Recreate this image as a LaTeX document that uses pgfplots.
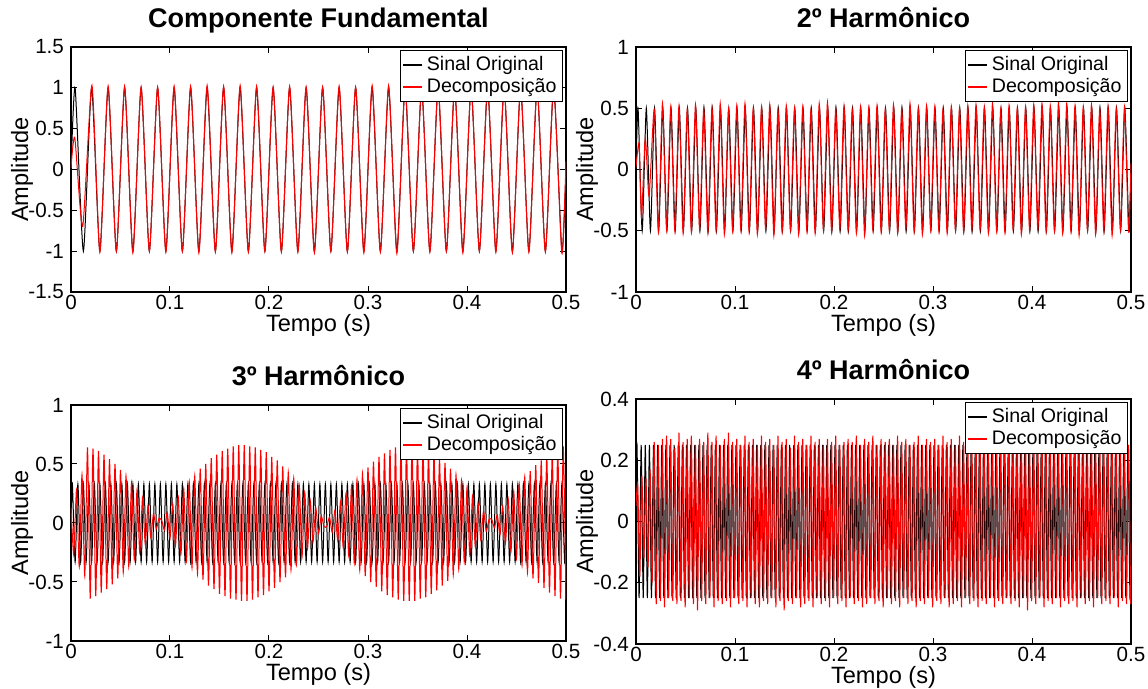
\documentclass[border=0pt]{standalone}
\usepackage{fontspec}
\setmainfont{Liberation Sans}
\usepackage{pgfplots}
\pgfplotsset{compat=1.18}

% time axis in units of 1/2880 s (0.5 s = 1440)
\pgfplotsset{
  sig/.style={
    scale only axis, width=247.5pt,
    xmin=0, xmax=1440,
    xtick={0,288,576,864,1152,1440},
    xticklabels={0,0.1,0.2,0.3,0.4,0.5},
    tick align=inside, major tick length=3pt,
    tick style={black, line width=0.5pt},
    axis line style={line width=0.6pt},
    tick label style={font=\fontsize{10.3}{12}\selectfont},
    xticklabel style={yshift=2pt},
    /pgf/number format/assume math mode=true,
    xlabel={Tempo (s)}, ylabel={Amplitude},
    every axis x label/.style={at={(axis description cs:0.5,0)}, anchor=center, yshift=-16.5pt,
      font=\fontsize{11.8}{14}\selectfont},
    every axis y label/.style={at={(axis description cs:-0.099,0.5)}, anchor=center, rotate=90,
      font=\fontsize{11.8}{14}\selectfont},
    every axis title/.style={at={(axis description cs:0.5,1)}, anchor=base, yshift=9.6pt,
      font=\fontsize{13.5}{16}\selectfont\bfseries},
    legend style={at={(0.994,0.988)}, anchor=north east, draw=black, line width=0.5pt, fill=white,
      font=\fontsize{9.8}{11}\selectfont, inner xsep=1pt, inner ysep=1pt, row sep=-1.5pt, cells={anchor=west}},
    legend image code/.code={\draw[#1, line width=0.8pt] (0pt,0pt) -- (9.5pt,0pt);},
  },
  orig/.style={draw=black, line width=0.5pt, smooth, tension=0.36},
  deco/.style={draw=red, line width=0.5pt, smooth, tension=0.36},
}

\begin{document}
\begin{tikzpicture}
\useasboundingbox (0,0) rectangle (574pt,344.5pt);

% ---------------- Componente Fundamental
\begin{axis}[sig, at={(35.5pt,198.5pt)}, anchor=south west, height=122.5pt,
  ymin=-1.5, ymax=1.5, ytick={-1.5,-1,-0.5,0,0.5,1,1.5},
  title={Componente Fundamental}]
\addplot[orig] coordinates {
(0,0) (12,1) (36,-1) (60,1) (84,-1) (108,1) (132,-1) (156,1) (180,-1)
(204,1) (228,-1) (252,1) (276,-1) (300,1) (324,-1) (348,1) (372,-1)
(396,1) (420,-1) (444,1) (468,-1) (492,1) (516,-1) (540,1) (564,-1)
(588,1) (612,-1) (636,1) (660,-1) (684,1) (708,-1) (732,1) (756,-1)
(780,1) (804,-1) (828,1) (852,-1) (876,1) (900,-1) (924,1) (948,-1)
(972,1) (996,-1) (1020,1) (1044,-1) (1068,1) (1092,-1) (1116,1) (1140,-1)
(1164,1) (1188,-1) (1212,1) (1236,-1) (1260,1) (1284,-1) (1308,1) (1332,-1)
(1356,1) (1380,-1) (1404,1) (1428,-1) (1440,0)
};
\addplot[deco] coordinates {
(0,0.02) (11,0.39) (34,-0.7) (61,1.03) (84,-1.01) (108,1.02) (132,-1.0) (156,1.02)
(180,-1.02) (204,1.01) (228,-1.0) (252,1.01) (276,-1.01) (300,1.02) (324,-1.0) (348,1.02)
(372,-1.02) (396,1.03) (420,-1.01) (444,1.02) (468,-1.02) (492,1.03) (516,-1.01) (540,1.02)
(564,-1.0) (588,1.01) (612,-1.01) (636,1.02) (660,-1.01) (684,1.01) (708,-1.02) (732,1.01)
(756,-1.0) (780,1.02) (804,-1.01) (828,1.01) (852,-1.02) (876,1.03) (900,-1.01) (924,1.03)
(948,-1.03) (972,1.02) (996,-1.0) (1020,1.01) (1044,-1.01) (1068,1.02) (1092,-1.0) (1116,1.01)
(1140,-1.02) (1164,1.01) (1188,-1.0) (1212,1.02) (1236,-1.01) (1260,1.01) (1284,-1.02) (1308,1.02)
(1332,-1.01) (1356,1.01) (1380,-1.01) (1404,1.02) (1428,-1.03) (1440,0.1)
};
\legend{Sinal Original, Decomposição}
\end{axis}

% ---------------- 2o harmonico
\begin{axis}[sig, at={(318pt,198.5pt)}, anchor=south west, height=122.5pt,
  ymin=-1, ymax=1, ytick={-1,-0.5,0,0.5,1},
  title={2º Harmônico}]
\addplot[orig] coordinates {
(0,0)
(6,0.5) (18,-0.5) (30,0.5) (42,-0.5) (54,0.5) (66,-0.5) (78,0.5) (90,-0.5)
(102,0.5) (114,-0.5) (126,0.5) (138,-0.5) (150,0.5) (162,-0.5) (174,0.5) (186,-0.5)
(198,0.5) (210,-0.5) (222,0.5) (234,-0.5) (246,0.5) (258,-0.5) (270,0.5) (282,-0.5)
(294,0.5) (306,-0.5) (318,0.5) (330,-0.5) (342,0.5) (354,-0.5) (366,0.5) (378,-0.5)
(390,0.5) (402,-0.5) (414,0.5) (426,-0.5) (438,0.5) (450,-0.5) (462,0.5) (474,-0.5)
(486,0.5) (498,-0.5) (510,0.5) (522,-0.5) (534,0.5) (546,-0.5) (558,0.5) (570,-0.5)
(582,0.5) (594,-0.5) (606,0.5) (618,-0.5) (630,0.5) (642,-0.5) (654,0.5) (666,-0.5)
(678,0.5) (690,-0.5) (702,0.5) (714,-0.5) (726,0.5) (738,-0.5) (750,0.5) (762,-0.5)
(774,0.5) (786,-0.5) (798,0.5) (810,-0.5) (822,0.5) (834,-0.5) (846,0.5) (858,-0.5)
(870,0.5) (882,-0.5) (894,0.5) (906,-0.5) (918,0.5) (930,-0.5) (942,0.5) (954,-0.5)
(966,0.5) (978,-0.5) (990,0.5) (1002,-0.5) (1014,0.5) (1026,-0.5) (1038,0.5) (1050,-0.5)
(1062,0.5) (1074,-0.5) (1086,0.5) (1098,-0.5) (1110,0.5) (1122,-0.5) (1134,0.5) (1146,-0.5)
(1158,0.5) (1170,-0.5) (1182,0.5) (1194,-0.5) (1206,0.5) (1218,-0.5) (1230,0.5) (1242,-0.5)
(1254,0.5) (1266,-0.5) (1278,0.5) (1290,-0.5) (1302,0.5) (1314,-0.5) (1326,0.5) (1338,-0.5)
(1350,0.5) (1362,-0.5) (1374,0.5) (1386,-0.5) (1398,0.5) (1410,-0.5) (1422,0.5) (1434,-0.5)
(1440,0)
};
\addplot[deco] coordinates {
(0,0.02) (9,0.21) (16,-0.39) (27,0.26) (38,-0.22)
(53,0.49) (65,-0.51) (77,0.54) (89,-0.49) (101,0.51) (113,-0.50) (125,0.52) (137,-0.52)
(149,0.49) (161,-0.51) (173,0.53) (185,-0.49) (197,0.50) (209,-0.52) (221,0.51) (233,-0.50)
(245,0.54) (257,-0.53) (269,0.49) (281,-0.50) (293,0.52) (305,-0.49) (317,0.54) (329,-0.51)
(341,0.50) (353,-0.53) (365,0.51) (377,-0.49) (389,0.53) (401,-0.54) (413,0.49) (425,-0.51)
(437,0.52) (449,-0.49) (461,0.50) (473,-0.53) (485,0.51) (497,-0.50) (509,0.49) (521,-0.52)
(533,0.54) (545,-0.49) (557,0.55) (569,-0.51) (581,0.50) (593,-0.49) (605,0.52) (617,-0.50)
(629,0.49) (641,-0.52) (653,0.51) (665,-0.54) (677,0.50) (689,-0.49) (701,0.52) (713,-0.51)
(725,0.49) (737,-0.50) (749,0.53) (761,-0.52) (773,0.50) (785,-0.49) (797,0.54) (809,-0.51)
(821,0.50) (833,-0.53) (845,0.52) (857,-0.49) (869,0.51) (881,-0.50) (893,0.49) (905,-0.52)
(917,0.51) (929,-0.49) (941,0.50) (953,-0.51) (965,0.52) (977,-0.50) (989,0.53) (1001,-0.49)
(1013,0.51) (1025,-0.52) (1037,0.54) (1049,-0.50) (1061,0.49) (1073,-0.51) (1085,0.52) (1097,-0.49)
(1109,0.50) (1121,-0.53) (1133,0.51) (1145,-0.50) (1157,0.53) (1169,-0.49) (1181,0.54) (1193,-0.51)
(1205,0.52) (1217,-0.50) (1229,0.55) (1241,-0.52) (1253,0.54) (1265,-0.50) (1277,0.52) (1289,-0.54)
(1301,0.51) (1313,-0.49) (1325,0.53) (1337,-0.53) (1349,0.50) (1361,-0.51) (1373,0.52) (1385,-0.54)
(1397,0.50) (1409,-0.49) (1421,0.51) (1433,-0.51) (1440,0.05)
};
\legend{Sinal Original, Decomposição}
\end{axis}

% ---------------- 3o harmonico
\begin{axis}[sig, at={(35.5pt,24pt)}, anchor=south west, height=118pt,
  ymin=-1, ymax=1, ytick={-1,-0.5,0,0.5,1},
  title={3º Harmônico}]
\addplot[orig] coordinates {
(0,0)
(4,0.33) (12,-0.33) (20,0.33) (28,-0.33) (36,0.33) (44,-0.33) (52,0.33) (60,-0.33)
(68,0.33) (76,-0.33) (84,0.33) (92,-0.33) (100,0.33) (108,-0.33) (116,0.33) (124,-0.33)
(132,0.33) (140,-0.33) (148,0.33) (156,-0.33) (164,0.33) (172,-0.33) (180,0.33) (188,-0.33)
(196,0.33) (204,-0.33) (212,0.33) (220,-0.33) (228,0.33) (236,-0.33) (244,0.33) (252,-0.33)
(260,0.33) (268,-0.33) (276,0.33) (284,-0.33) (292,0.33) (300,-0.33) (308,0.33) (316,-0.33)
(324,0.33) (332,-0.33) (340,0.33) (348,-0.33) (356,0.33) (364,-0.33) (372,0.33) (380,-0.33)
(388,0.33) (396,-0.33) (404,0.33) (412,-0.33) (420,0.33) (428,-0.33) (436,0.33) (444,-0.33)
(452,0.33) (460,-0.33) (468,0.33) (476,-0.33) (484,0.33) (492,-0.33) (500,0.33) (508,-0.33)
(516,0.33) (524,-0.33) (532,0.33) (540,-0.33) (548,0.33) (556,-0.33) (564,0.33) (572,-0.33)
(580,0.33) (588,-0.33) (596,0.33) (604,-0.33) (612,0.33) (620,-0.33) (628,0.33) (636,-0.33)
(644,0.33) (652,-0.33) (660,0.33) (668,-0.33) (676,0.33) (684,-0.33) (692,0.33) (700,-0.33)
(708,0.33) (716,-0.33) (724,0.33) (732,-0.33) (740,0.33) (748,-0.33) (756,0.33) (764,-0.33)
(772,0.33) (780,-0.33) (788,0.33) (796,-0.33) (804,0.33) (812,-0.33) (820,0.33) (828,-0.33)
(836,0.33) (844,-0.33) (852,0.33) (860,-0.33) (868,0.33) (876,-0.33) (884,0.33) (892,-0.33)
(900,0.33) (908,-0.33) (916,0.33) (924,-0.33) (932,0.33) (940,-0.33) (948,0.33) (956,-0.33)
(964,0.33) (972,-0.33) (980,0.33) (988,-0.33) (996,0.33) (1004,-0.33) (1012,0.33) (1020,-0.33)
(1028,0.33) (1036,-0.33) (1044,0.33) (1052,-0.33) (1060,0.33) (1068,-0.33) (1076,0.33) (1084,-0.33)
(1092,0.33) (1100,-0.33) (1108,0.33) (1116,-0.33) (1124,0.33) (1132,-0.33) (1140,0.33) (1148,-0.33)
(1156,0.33) (1164,-0.33) (1172,0.33) (1180,-0.33) (1188,0.33) (1196,-0.33) (1204,0.33) (1212,-0.33)
(1220,0.33) (1228,-0.33) (1236,0.33) (1244,-0.33) (1252,0.33) (1260,-0.33) (1268,0.33) (1276,-0.33)
(1284,0.33) (1292,-0.33) (1300,0.33) (1308,-0.33) (1316,0.33) (1324,-0.33) (1332,0.33) (1340,-0.33)
(1348,0.33) (1356,-0.33) (1364,0.33) (1372,-0.33) (1380,0.33) (1388,-0.33) (1396,0.33) (1404,-0.33)
(1412,0.33) (1420,-0.33) (1428,0.33) (1436,-0.33) (1440,0)
};
\addplot[deco] coordinates {
(0,0.13) (8,-0.27) (16,0.28) (24,-0.37) (32,0.41) (40,-0.45) (48,0.64) (56,-0.64)
(64,0.63) (72,-0.62) (80,0.61) (88,-0.59) (96,0.58) (104,-0.56) (112,0.54) (120,-0.52)
(128,0.50) (136,-0.47) (144,0.45) (152,-0.42) (160,0.40) (168,-0.37) (176,0.34) (184,-0.31)
(192,0.28) (200,-0.25) (208,0.21) (216,-0.18) (224,0.15) (232,-0.12) (240,0.08) (248,-0.05)
(256,0.04) (264,0.02) (272,-0.06) (280,0.09) (288,-0.13) (296,0.16) (304,-0.19) (312,0.22)
(320,-0.26) (328,0.29) (336,-0.32) (344,0.35) (352,-0.38) (360,0.40) (368,-0.43) (376,0.46)
(384,-0.48) (392,0.50) (400,-0.53) (408,0.55) (416,-0.56) (424,0.58) (432,-0.60) (440,0.61)
(448,-0.62) (456,0.63) (464,-0.64) (472,0.65) (480,-0.65) (488,0.66) (496,-0.66) (504,0.66)
(512,-0.66) (520,0.65) (528,-0.65) (536,0.64) (544,-0.63) (552,0.62) (560,-0.61) (568,0.60)
(576,-0.58) (584,0.56) (592,-0.55) (600,0.53) (608,-0.50) (616,0.48) (624,-0.46) (632,0.43)
(640,-0.40) (648,0.38) (656,-0.35) (664,0.32) (672,-0.29) (680,0.26) (688,-0.22) (696,0.19)
(704,-0.16) (712,0.13) (720,-0.09) (728,0.06) (736,-0.03) (744,-0.03) (752,0.05) (760,-0.08)
(768,0.11) (776,-0.15) (784,0.18) (792,-0.21) (800,0.25) (808,-0.28) (816,0.31) (824,-0.34)
(832,0.37) (840,-0.40) (848,0.42) (856,-0.45) (864,0.47) (872,-0.50) (880,0.52) (888,-0.54)
(896,0.56) (904,-0.58) (912,0.59) (920,-0.61) (928,0.62) (936,-0.63) (944,0.64) (952,-0.65)
(960,0.65) (968,-0.66) (976,0.66) (984,-0.66) (992,0.66) (1000,-0.66) (1008,0.65) (1016,-0.64)
(1024,0.64) (1032,-0.63) (1040,0.61) (1048,-0.60) (1056,0.59) (1064,-0.57) (1072,0.55) (1080,-0.53)
(1088,0.51) (1096,-0.49) (1104,0.46) (1112,-0.44) (1120,0.41) (1128,-0.39) (1136,0.36) (1144,-0.33)
(1152,0.30) (1160,-0.27) (1168,0.23) (1176,-0.20) (1184,0.17) (1192,-0.14) (1200,0.10) (1208,-0.07)
(1216,0.03) (1224,0.03) (1232,-0.04) (1240,0.07) (1248,-0.10) (1256,0.14) (1264,-0.17) (1272,0.20)
(1280,-0.24) (1288,0.27) (1296,-0.30) (1304,0.33) (1312,-0.36) (1320,0.39) (1328,-0.42) (1336,0.44)
(1344,-0.47) (1352,0.49) (1360,-0.51) (1368,0.53) (1376,-0.55) (1384,0.57) (1392,-0.59) (1400,0.60)
(1408,-0.62) (1416,0.63) (1424,-0.64) (1432,0.65) (1440,-0.65)
};
\legend{Sinal Original, Decomposição}
\end{axis}

% ---------------- 4o harmonico
\begin{axis}[sig, at={(318pt,22.5pt)}, anchor=south west, height=122.5pt,
  ymin=-0.4, ymax=0.4, ytick={-0.4,-0.2,0,0.2,0.4},
  title={4º Harmônico}]
\addplot[orig] coordinates {
(0,0)
(3,0.25) (9,-0.25) (15,0.25) (21,-0.25) (27,0.25) (33,-0.25) (39,0.25) (45,-0.25)
(51,0.25) (57,-0.25) (63,0.25) (69,-0.25) (75,0.25) (81,-0.25) (87,0.25) (93,-0.25)
(99,0.25) (105,-0.25) (111,0.25) (117,-0.25) (123,0.25) (129,-0.25) (135,0.25) (141,-0.25)
(147,0.25) (153,-0.25) (159,0.25) (165,-0.25) (171,0.25) (177,-0.25) (183,0.25) (189,-0.25)
(195,0.25) (201,-0.25) (207,0.25) (213,-0.25) (219,0.25) (225,-0.25) (231,0.25) (237,-0.25)
(243,0.25) (249,-0.25) (255,0.25) (261,-0.25) (267,0.25) (273,-0.25) (279,0.25) (285,-0.25)
(291,0.25) (297,-0.25) (303,0.25) (309,-0.25) (315,0.25) (321,-0.25) (327,0.25) (333,-0.25)
(339,0.25) (345,-0.25) (351,0.25) (357,-0.25) (363,0.25) (369,-0.25) (375,0.25) (381,-0.25)
(387,0.25) (393,-0.25) (399,0.25) (405,-0.25) (411,0.25) (417,-0.25) (423,0.25) (429,-0.25)
(435,0.25) (441,-0.25) (447,0.25) (453,-0.25) (459,0.25) (465,-0.25) (471,0.25) (477,-0.25)
(483,0.25) (489,-0.25) (495,0.25) (501,-0.25) (507,0.25) (513,-0.25) (519,0.25) (525,-0.25)
(531,0.25) (537,-0.25) (543,0.25) (549,-0.25) (555,0.25) (561,-0.25) (567,0.25) (573,-0.25)
(579,0.25) (585,-0.25) (591,0.25) (597,-0.25) (603,0.25) (609,-0.25) (615,0.25) (621,-0.25)
(627,0.25) (633,-0.25) (639,0.25) (645,-0.25) (651,0.25) (657,-0.25) (663,0.25) (669,-0.25)
(675,0.25) (681,-0.25) (687,0.25) (693,-0.25) (699,0.25) (705,-0.25) (711,0.25) (717,-0.25)
(723,0.25) (729,-0.25) (735,0.25) (741,-0.25) (747,0.25) (753,-0.25) (759,0.25) (765,-0.25)
(771,0.25) (777,-0.25) (783,0.25) (789,-0.25) (795,0.25) (801,-0.25) (807,0.25) (813,-0.25)
(819,0.25) (825,-0.25) (831,0.25) (837,-0.25) (843,0.25) (849,-0.25) (855,0.25) (861,-0.25)
(867,0.25) (873,-0.25) (879,0.25) (885,-0.25) (891,0.25) (897,-0.25) (903,0.25) (909,-0.25)
(915,0.25) (921,-0.25) (927,0.25) (933,-0.25) (939,0.25) (945,-0.25) (951,0.25) (957,-0.25)
(963,0.25) (969,-0.25) (975,0.25) (981,-0.25) (987,0.25) (993,-0.25) (999,0.25) (1005,-0.25)
(1011,0.25) (1017,-0.25) (1023,0.25) (1029,-0.25) (1035,0.25) (1041,-0.25) (1047,0.25) (1053,-0.25)
(1059,0.25) (1065,-0.25) (1071,0.25) (1077,-0.25) (1083,0.25) (1089,-0.25) (1095,0.25) (1101,-0.25)
(1107,0.25) (1113,-0.25) (1119,0.25) (1125,-0.25) (1131,0.25) (1137,-0.25) (1143,0.25) (1149,-0.25)
(1155,0.25) (1161,-0.25) (1167,0.25) (1173,-0.25) (1179,0.25) (1185,-0.25) (1191,0.25) (1197,-0.25)
(1203,0.25) (1209,-0.25) (1215,0.25) (1221,-0.25) (1227,0.25) (1233,-0.25) (1239,0.25) (1245,-0.25)
(1251,0.25) (1257,-0.25) (1263,0.25) (1269,-0.25) (1275,0.25) (1281,-0.25) (1287,0.25) (1293,-0.25)
(1299,0.25) (1305,-0.25) (1311,0.25) (1317,-0.25) (1323,0.25) (1329,-0.25) (1335,0.25) (1341,-0.25)
(1347,0.25) (1353,-0.25) (1359,0.25) (1365,-0.25) (1371,0.25) (1377,-0.25) (1383,0.25) (1389,-0.25)
(1395,0.25) (1401,-0.25) (1407,0.25) (1413,-0.25) (1419,0.25) (1425,-0.25) (1431,0.25) (1437,-0.25)
(1440,0)
};
\addplot[deco] coordinates {
(0,0.05) (5,0.12) (11,-0.18) (17,0.15) (23,-0.12) (29,0.14) (35,-0.15) (41,0.17) (47,-0.2)
(53,0.26) (59,-0.27) (65,0.25) (71,-0.26) (77,0.27) (83,-0.28) (89,0.28) (95,-0.25)
(101,0.27) (107,-0.26) (113,0.24) (119,-0.27) (125,0.29) (131,-0.26) (137,0.26) (143,-0.28)
(149,0.27) (155,-0.25) (161,0.28) (167,-0.27) (173,0.25) (179,-0.29) (185,0.27) (191,-0.26)
(197,0.26) (203,-0.27) (209,0.29) (215,-0.25) (221,0.26) (227,-0.28) (233,0.28) (239,-0.26)
(245,0.25) (251,-0.27) (257,0.27) (263,-0.26) (269,0.29) (275,-0.28) (281,0.26) (287,-0.25)
(293,0.27) (299,-0.27) (305,0.25) (311,-0.26) (317,0.28) (323,-0.28) (329,0.26) (335,-0.25)
(341,0.27) (347,-0.27) (353,0.25) (359,-0.28) (365,0.28) (371,-0.26) (377,0.26) (383,-0.27)
(389,0.27) (395,-0.25) (401,0.25) (407,-0.28) (413,0.28) (419,-0.26) (425,0.26) (431,-0.29)
(437,0.27) (443,-0.26) (449,0.24) (455,-0.27) (461,0.28) (467,-0.25) (473,0.26) (479,-0.28)
(485,0.27) (491,-0.27) (497,0.25) (503,-0.26) (509,0.28) (515,-0.28) (521,0.26) (527,-0.25)
(533,0.27) (539,-0.27) (545,0.25) (551,-0.26) (557,0.27) (563,-0.28) (569,0.26) (575,-0.25)
(581,0.28) (587,-0.27) (593,0.25) (599,-0.26) (605,0.26) (611,-0.28) (617,0.27) (623,-0.25)
(629,0.26) (635,-0.27) (641,0.28) (647,-0.26) (653,0.25) (659,-0.28) (665,0.27) (671,-0.27)
(677,0.26) (683,-0.25) (689,0.28) (695,-0.27) (701,0.25) (707,-0.26) (713,0.27) (719,-0.28)
(725,0.26) (731,-0.25) (737,0.27) (743,-0.27) (749,0.25) (755,-0.26) (761,0.28) (767,-0.28)
(773,0.26) (779,-0.25) (785,0.27) (791,-0.27) (797,0.25) (803,-0.26) (809,0.26) (815,-0.28)
(821,0.28) (827,-0.26) (833,0.25) (839,-0.27) (845,0.27) (851,-0.25) (857,0.26) (863,-0.28)
(869,0.27) (875,-0.26) (881,0.25) (887,-0.27) (893,0.28) (899,-0.25) (905,0.26) (911,-0.28)
(917,0.27) (923,-0.27) (929,0.25) (935,-0.26) (941,0.28) (947,-0.28) (953,0.26) (959,-0.25)
(965,0.29) (971,-0.27) (977,0.26) (983,-0.26) (989,0.27) (995,-0.28) (1001,0.25) (1007,-0.26)
(1013,0.27) (1019,-0.27) (1025,0.26) (1031,-0.25) (1037,0.28) (1043,-0.28) (1049,0.25) (1055,-0.26)
(1061,0.27) (1067,-0.27) (1073,0.26) (1079,-0.25) (1085,0.28) (1091,-0.27) (1097,0.25) (1103,-0.26)
(1109,0.27) (1115,-0.28) (1121,0.26) (1127,-0.25) (1133,0.27) (1139,-0.29) (1145,0.25) (1151,-0.26)
(1157,0.28) (1163,-0.27) (1169,0.26) (1175,-0.25) (1181,0.27) (1187,-0.28) (1193,0.25) (1199,-0.26)
(1205,0.28) (1211,-0.27) (1217,0.26) (1223,-0.25) (1229,0.27) (1235,-0.28) (1241,0.26) (1247,-0.26)
(1253,0.28) (1259,-0.27) (1265,0.25) (1271,-0.26) (1277,0.27) (1283,-0.28) (1289,0.26) (1295,-0.25)
(1301,0.27) (1307,-0.27) (1313,0.25) (1319,-0.26) (1325,0.28) (1331,-0.28) (1337,0.26) (1343,-0.25)
(1349,0.27) (1355,-0.27) (1361,0.25) (1367,-0.26) (1373,0.28) (1379,-0.27) (1385,0.26) (1391,-0.25)
(1397,0.27) (1403,-0.28) (1409,0.26) (1415,-0.26) (1421,0.27) (1427,-0.27) (1433,0.25) (1439,-0.27)
};
\legend{Sinal Original, Decomposição}
\end{axis}
\end{tikzpicture}
\end{document}
